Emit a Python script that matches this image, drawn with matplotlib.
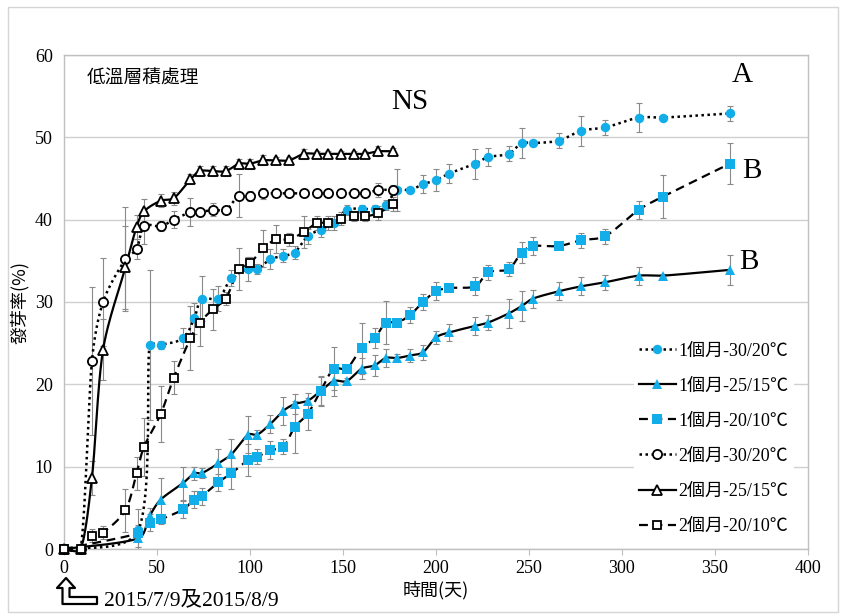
import numpy as np
import matplotlib
matplotlib.use("Agg")
import matplotlib.pyplot as plt
from matplotlib.lines import Line2D
from matplotlib.patches import Polygon, Rectangle

# ---------------- data ----------------
days_1m = [0, 40, 46, 52, 64, 70, 74, 83, 90, 99, 104, 111, 118, 124, 131, 138, 145, 152,
           160, 167, 173, 179, 186, 193, 200, 207, 221, 228, 239, 246, 252, 266, 278, 291,
           309, 322, 358]
m1_30_20 = [0, 2.3, 24.8, 24.8, 25.6, 28.0, 30.4, 30.4, 32.9, 34.0, 34.0, 35.2, 35.6, 36.0,
            38.0, 38.8, 39.6, 41.2, 41.3, 41.3, 41.8, 43.6, 43.6, 44.3, 44.8, 45.6, 46.8,
            47.6, 48.0, 49.3, 49.3, 49.6, 50.8, 51.2, 52.4, 52.4, 52.9]
m1_30_20_err = [0, 2.5, 9.1, 0.5, 1.2, 1.9, 2.7, 1.5, 1.0, 1.5, 0.6, 1.2, 0.8, 0.8, 0.9, 0.9,
                0.8, 0.6, 0.5, 0.5, 0.6, 2.5, 0.4, 1.1, 1.3, 1.2, 1.8, 1.1, 0.9, 1.8, 0.3,
                0.9, 1.8, 0.9, 1.8, 0.2, 0.9]
m1_25_15 = [0, 1.3, 4.0, 6.0, 8.0, 9.2, 9.2, 10.4, 11.5, 13.9, 13.9, 15.2, 16.8, 17.6, 18.0,
            19.2, 20.4, 20.4, 21.9, 22.3, 23.2, 23.2, 23.5, 23.9, 25.7, 26.3, 27.1, 27.5,
            28.6, 29.5, 30.4, 31.3, 31.9, 32.4, 33.2, 33.2, 33.9]
m1_25_15_err = [0, 1.0, 1.0, 2.6, 2.0, 0.8, 0.6, 1.8, 1.9, 2.2, 0.5, 1.1, 1.7, 1.2, 1.0, 1.8,
                1.8, 0.4, 1.3, 1.3, 1.1, 0.5, 0.8, 0.9, 0.8, 1.0, 1.1, 0.9, 1.8, 1.8, 1.1,
                1.1, 1.1, 0.9, 1.1, 0.2, 1.85]
m1_20_10 = [0, 1.9, 3.2, 3.6, 4.8, 6.0, 6.4, 8.1, 9.2, 10.8, 11.2, 12.0, 12.4, 14.8, 16.4,
            19.2, 21.9, 21.9, 24.4, 25.6, 27.5, 27.5, 28.4, 30.0, 31.3, 31.7, 31.9, 33.6,
            34.0, 36.0, 36.8, 36.8, 37.5, 38.0, 41.2, 42.8, 46.8]
m1_20_10_err = [0, 1.0, 1.0, 0.6, 1.0, 1.0, 1.0, 1.0, 1.9, 1.9, 0.9, 1.1, 0.9, 3.2, 2.0, 1.7,
                2.6, 0.4, 3.1, 1.2, 2.6, 0.4, 1.0, 1.0, 1.1, 0.5, 1.1, 0.9, 0.8, 1.3, 1.1,
                0.3, 0.9, 0.9, 1.1, 2.6, 2.5]

days_2m = [0, 9, 15, 21, 33, 39, 43, 52, 59, 68, 73, 80, 87, 94, 100, 107, 114, 121, 129,
           136, 142, 149, 156, 162, 169, 177]
m2_30_20 = [0, 0, 22.8, 30.0, 35.2, 36.4, 39.2, 39.2, 40.0, 40.9, 40.9, 41.2, 41.2, 42.9,
            42.9, 43.2, 43.2, 43.2, 43.2, 43.2, 43.2, 43.2, 43.2, 43.2, 43.6, 43.6]
m2_30_20_err = [0, 0, 9.0, 5.3, 6.3, 1.2, 2.1, 0.6, 1.0, 1.7, 0.5, 0.8, 0.5, 2.6, 0.6, 0.7,
                0.5, 0.5, 0.5, 0.5, 0.5, 0.5, 0.5, 0.5, 0.9, 0.6]
m2_25_15 = [0, 0, 8.6, 24.2, 34.2, 39.1, 41.0, 42.3, 42.6, 44.9, 45.9, 45.9, 45.9, 46.8,
            46.8, 47.2, 47.2, 47.2, 48.0, 48.0, 48.0, 48.0, 48.0, 48.0, 48.3, 48.3]
m2_25_15_err = [0, 0, 2.1, 3.7, 5.0, 1.5, 1.5, 0.8, 0.8, 0.6, 0.6, 0.6, 0.6, 0.6, 0.6, 0.6,
                0.4, 0.4, 0.6, 0.4, 0.4, 0.4, 0.4, 0.4, 0.6, 0.4]
m2_20_10 = [0, 0, 1.6, 2.0, 4.7, 9.2, 12.4, 16.4, 20.8, 25.6, 27.5, 29.1, 30.4, 34.0, 34.7,
            36.5, 37.6, 37.6, 38.5, 39.6, 39.6, 40.1, 40.4, 40.4, 40.8, 41.9]
m2_20_10_err = [0, 0, 0.8, 0.8, 2.6, 2.0, 3.5, 3.4, 2.0, 3.9, 2.8, 2.5, 0.8, 2.5, 0.8, 2.3,
                1.7, 0.8, 2.0, 0.8, 0.8, 0.8, 0.6, 0.6, 0.8, 0.8]

labels = ["1個月-30/20℃", "1個月-25/15℃", "1個月-20/10℃",
          "2個月-30/20℃", "2個月-25/15℃", "2個月-20/10℃"]
x_ticks = [0, 50, 100, 150, 200, 250, 300, 350, 400]
y_ticks = [0, 10, 20, 30, 40, 50, 60]
title_text = "低溫層積處理"
x_label = "時間(天)"
y_label = "發芽率(%)"
date_note = "2015/7/9及2015/8/9"

# ---------------- style ----------------
SERIF = ['Liberation Serif', 'Noto Sans CJK TC']
CJK = ['Noto Sans CJK TC', 'Liberation Serif']
BLUE = '#12AEEA'
DOTTED = (0, (1.0, 1.4))
DASHED = (0, (4.0, 2.5))

# axes geometry in pixels (used for smoothing in display-like space)
AX_W, AX_H = 744, 494
XMAX, YMAX = 400, 60


def smooth(x, y, n=24):
    """Excel-like smoothed line through the data points (Bezier, computed in pixel space)."""
    sx, sy = AX_W / XMAX, AX_H / YMAX
    p = np.column_stack([np.asarray(x, float) * sx, np.asarray(y, float) * sy])
    out = [p[0]]
    t = np.linspace(0, 1, n)[1:][:, None]
    for i in range(len(p) - 1):
        p0 = p[i - 1] if i > 0 else p[i]
        p1, p2 = p[i], p[i + 1]
        p3 = p[i + 2] if i + 2 < len(p) else p[i + 1]
        L = np.hypot(*(p2 - p1))
        d1 = p2 - p0
        d2 = p3 - p1
        n1 = np.hypot(*d1)
        n2 = np.hypot(*d2)
        f1 = min(1.0, L / (n1 / 2)) if n1 > 0 else 0
        f2 = min(1.0, L / (n2 / 2)) if n2 > 0 else 0
        c1 = p1 + d1 / 6.0 * f1
        c2 = p2 - d2 / 6.0 * f2
        seg = (1 - t) ** 3 * p1 + 3 * (1 - t) ** 2 * t * c1 + 3 * (1 - t) * t ** 2 * c2 + t ** 3 * p2
        out.extend(seg)
    out = np.array(out)
    return out[:, 0] / sx, out[:, 1] / sy


fig = plt.figure(figsize=(8.45, 6.15), dpi=100)
ax = fig.add_axes([64 / 845, 66 / 615, AX_W / 845, AX_H / 615])

series = [
    (days_1m, m1_30_20, m1_30_20_err, DOTTED, dict(marker='o', ms=6.8, mfc=BLUE, mec=BLUE, mew=0)),
    (days_1m, m1_25_15, m1_25_15_err, '-', dict(marker='^', ms=7.8, mfc=BLUE, mec=BLUE, mew=0)),
    (days_1m, m1_20_10, m1_20_10_err, DASHED, dict(marker='s', ms=6.8, mfc=BLUE, mec=BLUE, mew=0)),
    (days_2m, m2_30_20, m2_30_20_err, DOTTED, dict(marker='o', ms=6.6, mfc='white', mec='black', mew=1.3)),
    (days_2m, m2_25_15, m2_25_15_err, '-', dict(marker='^', ms=7.4, mfc='white', mec='black', mew=1.3)),
    (days_2m, m2_20_10, m2_20_10_err, DASHED, dict(marker='s', ms=6.4, mfc='white', mec='black', mew=1.3)),
]

handles = []
for i, (xd, yd, ed, ls, mk) in enumerate(series):
    lw = 1.8 if ls == DOTTED else 1.6
    ax.errorbar(xd, yd, yerr=ed, fmt='none', ecolor='#8A8A8A', elinewidth=0.8,
                capsize=2.5, capthick=0.8, zorder=2)
    sx, sy = smooth(xd, yd)
    ax.plot(sx, sy, color='black', linestyle=ls, linewidth=lw, zorder=3 + i * 0.1,
            clip_on=False)
    ax.plot(xd, yd, linestyle='none', zorder=4 + i * 0.1, clip_on=False, **mk)
    handles.append(Line2D([], [], color='black', linestyle=ls, linewidth=lw, **mk))

ax.set_xlim(0, XMAX)
ax.set_ylim(0, YMAX)
ax.set_xticks(x_ticks)
ax.set_yticks(y_ticks)
ax.set_xticklabels([str(v) for v in x_ticks], fontfamily=SERIF, fontsize=13)
ax.set_yticklabels([str(v) for v in y_ticks], fontfamily=SERIF, fontsize=13)
ax.tick_params(axis='x', length=4, width=0.8, color='#BFBFBF', pad=4)
ax.tick_params(axis='y', length=0, pad=8)
ax.grid(axis='y', color='#D0D0D0', linewidth=1.0)
ax.set_axisbelow(True)
for s in ax.spines.values():
    s.set_color('#BFBFBF')
    s.set_linewidth(1.0)

ax.set_xlabel(x_label, fontfamily=CJK, fontsize=13, labelpad=3)
ax.set_ylabel(y_label, fontfamily=CJK, fontsize=13, labelpad=4)

ax.text(12.3, 57.2, title_text, fontfamily=CJK, fontsize=13.5, va='center', ha='left')
ax.text(186, 54.3, "NS", fontfamily=SERIF, fontsize=21, va='center', ha='center')
ax.text(364.5, 57.6, "A", fontfamily=SERIF, fontsize=21, va='center', ha='center')
ax.text(370, 45.9, "B", fontfamily=SERIF, fontsize=21, va='center', ha='center')
ax.text(368, 34.9, "B", fontfamily=SERIF, fontsize=21, va='center', ha='center')

leg = ax.legend(handles, labels, loc='upper left', bbox_to_anchor=(0.754, 0.447),
                frameon=True, facecolor='white', edgecolor='none', framealpha=1,
                prop={'family': SERIF, 'size': 13}, labelspacing=1.0,
                handlelength=2.0, handletextpad=0.15, borderpad=0.3)
leg.set_zorder(10)


# hollow bent arrow under the origin + date note (figure pixel coordinates)
def fx(px):
    return px / 845


def fy(py):
    return 1 - py / 615


arrow_px = [(66, 578), (75, 588), (69.5, 588), (69.5, 597), (97, 597), (97, 604),
            (62.5, 604), (62.5, 588), (57, 588)]
fig.patches.append(Polygon([(fx(a), fy(b)) for a, b in arrow_px], closed=True,
                           transform=fig.transFigure, facecolor='white',
                           edgecolor='black', linewidth=1.6, joinstyle='round'))
fig.text(fx(104), fy(601), date_note, fontfamily=SERIF, fontsize=15.5, va='center', ha='left')

# light outer frame
fig.patches.append(Rectangle((fx(8), fy(612)), fx(830), 605 / 615, transform=fig.transFigure,
                             fill=False, edgecolor='#D5D5D5', linewidth=1.0))

fig.savefig("out.png", dpi=100)
